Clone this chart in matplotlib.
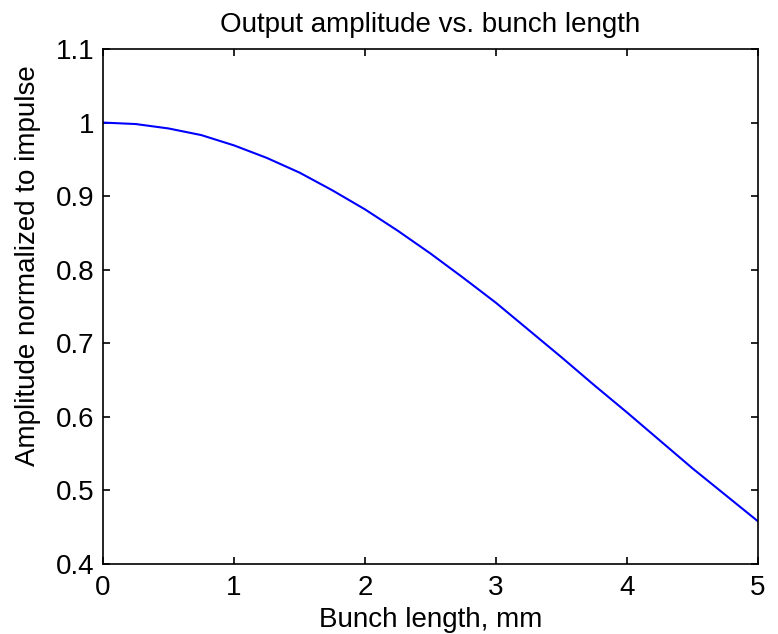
import matplotlib
matplotlib.use('Agg')
import matplotlib.pyplot as plt

plt.rcParams['font.family'] = ['Liberation Sans', 'DejaVu Sans']

# bunch length (mm) and normalized amplitude
BunchLen = [0.0, 0.25, 0.5, 0.75, 1.0, 1.25, 1.5, 1.75, 2.0, 2.25, 2.5,
            2.75, 3.0, 3.25, 3.5, 3.75, 4.0, 4.25, 4.5, 4.75, 5.0]
Amplitude = [1.000, 0.998, 0.992, 0.983, 0.969, 0.952, 0.932, 0.908, 0.882,
             0.853, 0.822, 0.789, 0.755, 0.718, 0.681, 0.643, 0.606, 0.568,
             0.530, 0.494, 0.458]
XTicks = [0, 1, 2, 3, 4, 5]
YTicks = [0.4, 0.5, 0.6, 0.7, 0.8, 0.9, 1.0, 1.1]
YTickLabels = ['0.4', '0.5', '0.6', '0.7', '0.8', '0.9', '1', '1.1']

fig = plt.figure(figsize=(7.78, 6.34), dpi=100)
ax = fig.add_axes([103/778, 70/634, 655/778, 515/634])

ax.plot(BunchLen, Amplitude, color='#0000ff', lw=1.5)

ax.set_xlim(0, 5)
ax.set_ylim(0.4, 1.1)
ax.set_xticks(XTicks)
ax.set_xticklabels([str(t) for t in XTicks])
ax.set_yticks(YTicks)
ax.set_yticklabels(YTickLabels)
ax.tick_params(direction='in', top=True, right=True, length=5, width=1.2,
               labelsize=20)
ax.tick_params(axis='x', pad=8)
ax.tick_params(axis='y', pad=6)
for s in ax.spines.values():
    s.set_linewidth(1.2)

ax.set_title('Output amplitude vs. bunch length', fontsize=20, pad=12)
ax.set_xlabel('Bunch length, mm', fontsize=20, labelpad=4)
ax.set_ylabel('Amplitude normalized to impulse', fontsize=20)
ax.yaxis.set_label_coords(-0.095, 0.58)

fig.savefig('out.png', dpi=100)
